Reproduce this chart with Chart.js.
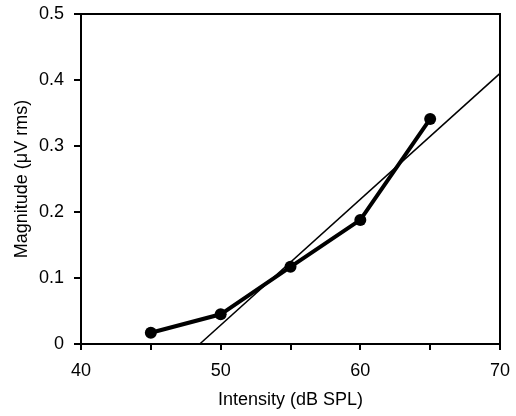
<!DOCTYPE html>
<html>
<head>
<meta charset="utf-8">
<script src="https://cdn.jsdelivr.net/npm/chart.js@4"></script>
<style>
  html, body { margin: 0; padding: 0; background: #fff; }
  #wrap { width: 516px; height: 416px; }
</style>
</head>
<body>
<div id="wrap"><canvas id="chart" width="516" height="416"></canvas></div>
<script>
// Measured points
const intensity = [45, 50, 55, 60, 65];
const magnitude = [0.017, 0.045, 0.117, 0.188, 0.341];

// Fitted straight line, end points
const fitX = [48.5, 70];
const fitY = [0, 0.41];

const xTicks = [40, 50, 60, 70];

// box around the plot area
const frame = {
    id: 'frame',
    afterDraw(chart) {
        const a = chart.chartArea;
        const ctx = chart.ctx;
        ctx.save();
        ctx.strokeStyle = '#000';
        ctx.lineWidth = 2;
        ctx.strokeRect(a.left, a.top, a.right - a.left, a.bottom - a.top);
        ctx.restore();
    }
};

const font = { family: 'Liberation Sans', size: 18 };

new Chart(document.getElementById('chart').getContext('2d'), {
    type: 'scatter',
    data: {
        datasets: [{
            label: 'Fit',
            data: fitX.map((x, i) => ({ x: x, y: fitY[i] })),
            showLine: true,
            borderColor: '#000',
            borderWidth: 1.5,
            pointRadius: 0,
            fill: false
        }, {
            label: 'Magnitude',
            data: intensity.map((x, i) => ({ x: x, y: magnitude[i] })),
            showLine: true,
            borderColor: '#000',
            backgroundColor: '#000',
            borderWidth: 4,
            pointRadius: 6,
            pointBorderWidth: 0,
            fill: false
        }]
    },
    options: {
        responsive: false,
        animation: false,
        layout: { padding: { left: 0, right: 16, top: 14, bottom: 0 } },
        plugins: {
            legend: { display: false },
            tooltip: { enabled: false }
        },
        scales: {
            x: {
                type: 'linear',
                min: 40,
                max: 70,
                afterFit: (s) => { s.height = 72; s.paddingLeft = 0; s.paddingRight = 0; },
                border: { color: '#000', width: 2 },
                grid: { drawOnChartArea: false, color: '#000', lineWidth: 2, tickLength: 6 },
                ticks: {
                    stepSize: 5,
                    color: '#000',
                    padding: 10,
                    maxRotation: 0,
                    font: font,
                    callback: (v) => xTicks.includes(v) ? String(v) : ''
                },
                title: {
                    display: true,
                    text: 'Intensity (dB SPL)',
                    color: '#000',
                    padding: { top: 4, bottom: 5 },
                    font: font
                }
            },
            y: {
                min: 0,
                max: 0.5,
                afterFit: (s) => { s.width = 81; s.paddingTop = 0; s.paddingBottom = 0; },
                border: { color: '#000', width: 2 },
                grid: { drawOnChartArea: false, color: '#000', lineWidth: 2, tickLength: 7 },
                ticks: {
                    stepSize: 0.1,
                    color: '#000',
                    padding: 10,
                    font: font,
                    callback: (v) => v === 0 ? '0' : v.toFixed(1)
                },
                title: {
                    display: true,
                    text: 'Magnitude (μV rms)',
                    color: '#000',
                    padding: { top: 11, bottom: 4 },
                    font: font
                }
            }
        }
    },
    plugins: [frame]
});
</script>
</body>
</html>
